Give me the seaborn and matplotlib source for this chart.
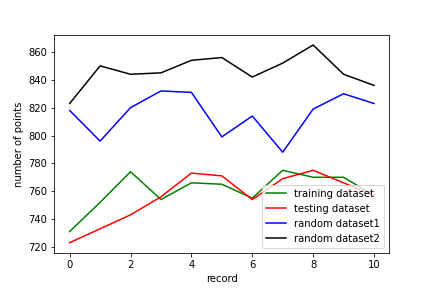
import matplotlib
matplotlib.use("Agg")
import matplotlib.pyplot as plt
import seaborn as sns
import pandas as pd

records = list(range(11))
training = [731, 752, 774, 754, 766, 765, 755, 775, 770, 770, 757]
testing = [723, 733, 743, 756, 773, 771, 754, 769, 775, 766, 757]
random1 = [818, 796, 820, 832, 831, 799, 814, 788, 819, 830, 823]
random2 = [823, 850, 844, 845, 854, 856, 842, 852, 865, 844, 836]

series = [("training dataset", training, "green"),
          ("testing dataset", testing, "red"),
          ("random dataset1", random1, "blue"),
          ("random dataset2", random2, "black")]

fig, ax = plt.subplots(figsize=(6, 4), dpi=72)
fig.subplots_adjust(left=0.126, right=0.901, top=0.878, bottom=0.123)
for name, vals, color in series:
    df = pd.DataFrame({"record": records, "points": vals})
    sns.lineplot(data=df, x="record", y="points", color=color, label=name, ax=ax)

ax.set_xlabel("record")
ax.set_ylabel("number of points")
ax.legend(loc="lower right")
fig.savefig("out.png", dpi=72)
